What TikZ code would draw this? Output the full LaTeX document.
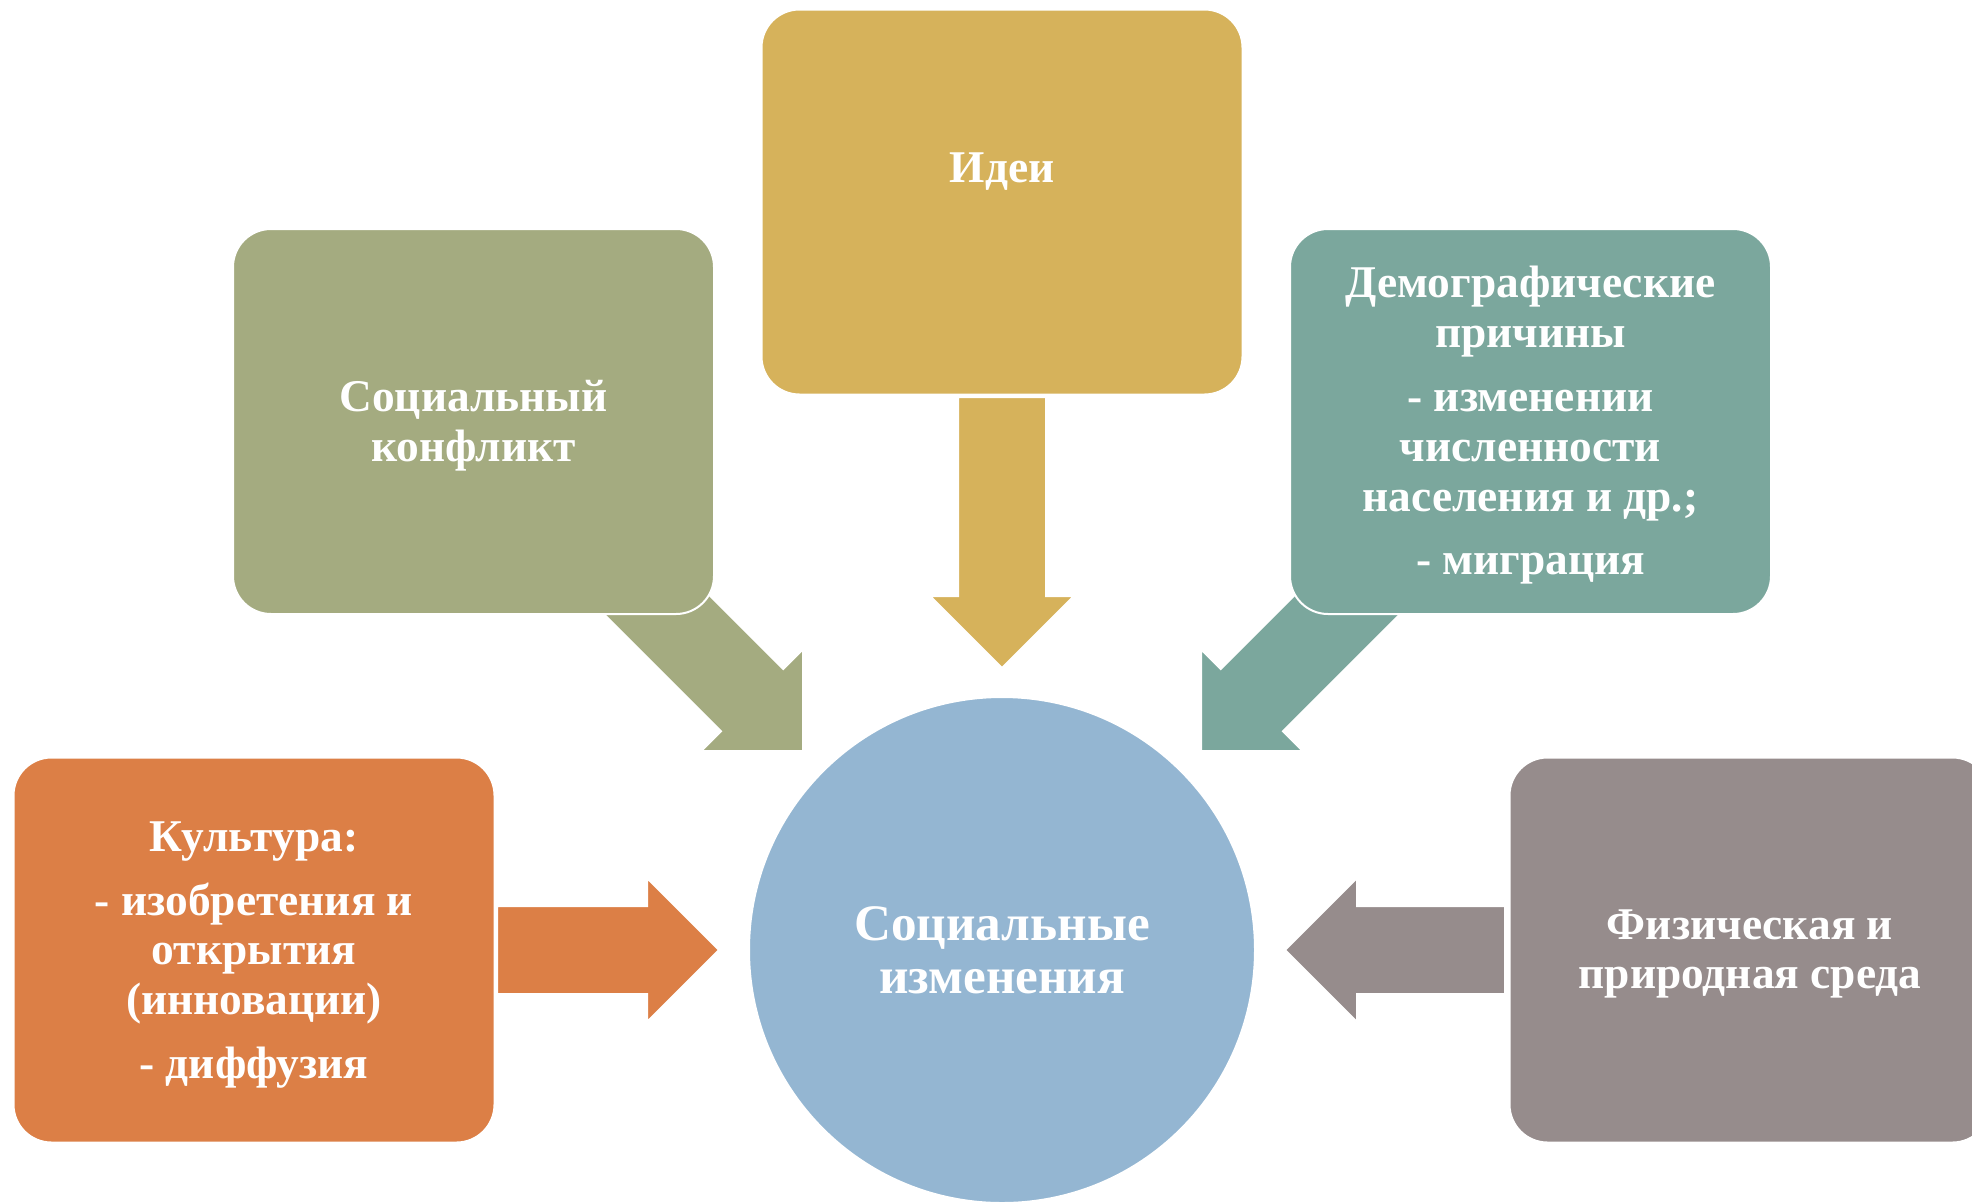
\documentclass[tikz,border=0pt]{standalone}
\usepackage{fontspec}
\setmainfont{Liberation Serif}
\usetikzlibrary{calc}
\definecolor{cyellow}{HTML}{D6B25B}
\definecolor{cgreen}{HTML}{A4AB80}
\definecolor{cteal}{HTML}{7BA79D}
\definecolor{corange}{HTML}{DC7F46}
\definecolor{cgray}{HTML}{968C8C}
\definecolor{cblue}{HTML}{94B6D2}
\newcommand\boxfont{\fontsize{22.7}{24.9}\selectfont\bfseries}
\newcommand\circfont{\fontsize{25.6}{26.5}\selectfont\bfseries}
\newcommand\blockarr[4]{%
  \begin{scope}[shift={(#1)}, rotate=#2]
    \fill[#4, draw=white, line width=1pt] (0,0) -- (-72,72) -- (-72,44) -- (-#3,44)
      -- (-#3,-44) -- (-72,-44) -- (-72,-72) -- cycle;
  \end{scope}}
\tikzset{
  box/.style={draw=white, line width=1pt, rounded corners=19pt,
    minimum width=240.5pt, minimum height=192.5pt, inner sep=0pt},
  circ/.style={circle, draw=white, line width=1pt, fill=cblue,
    minimum size=253pt, inner sep=0pt, text=white, font=\circfont, align=center},
  lbl/.style={text=white, font=\boxfont, align=center, inner sep=0pt}
}
\begin{document}
\begin{tikzpicture}[x=0.5pt,y=-0.5pt]
\useasboundingbox (0,0) rectangle (1972,1201);
\clip (0,0) rectangle (1972,1201);
\fill[white] (0,0) rectangle (1972,1201);

% central circle
\node[circ] (soc) at (1002,950) {Социальные\\изменения};

% arrow tips
\coordinate (ytip) at ($(soc.center)+(0,-282)$);
\coordinate (otip) at ($(soc.center)+(-283,0)$);
\coordinate (gtip) at ($(soc.center)+(283,0)$);
\coordinate (ctip) at ($(soc.center)+(-199,-199)$);
\coordinate (dtip) at ($(soc.center)+(199,-199)$);

% block arrows (behind boxes)
\blockarr{ytip}{-90}{271}{cyellow}
\blockarr{otip}{0}{222}{corange}
\blockarr{gtip}{180}{220}{cgray}
\blockarr{ctip}{-45}{290}{cgreen}
\blockarr{dtip}{-135}{290}{cteal}

% boxes
\node[box, fill=cyellow] (ideas) at (1002,202) {};
\node[box, fill=cgreen] (conflict) at (473.5,421.5) {};
\node[box, fill=cteal] (demo) at (1530.5,421.5) {};
\node[box, fill=corange] (culture) at (254,950) {};
\node[box, fill=cgray] (phys) at (1750,950) {};

% texts
\node[lbl] (ideastext) at ($(ideas.center)+(0,-30)$) {Идеи};
\node[lbl] (conflicttext) at ($(conflict.center)+(0,4)$) {Социальный\\конфликт};
\node[lbl] (demotext) at ($(demo.center)+(0,4)$)
  {Демографические\\причины\\[7pt]- изменении\\численности\\населения и др.;\\[7pt]- миграция};
\node[lbl] (culturetext) at ($(culture.center)+(0,5)$)
  {Культура:\\[7pt]- изобретения и\\открытия\\(инновации)\\[7pt]- диффузия};
\node[lbl] (phystext) at ($(phys.center)+(0,4)$) {Физическая и\\природная среда};
\end{tikzpicture}
\end{document}
